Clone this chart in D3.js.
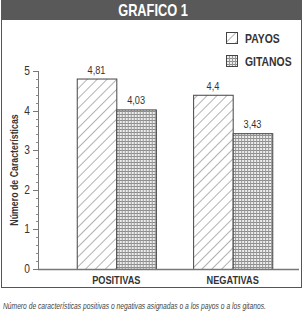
<!DOCTYPE html>
<html>
<head>
<meta charset="utf-8">
<script src="https://cdn.jsdelivr.net/npm/d3@7"></script>
<style>
 body { margin: 0; background: #fff; }
 text { font-family: "Liberation Sans", Arial, sans-serif; }
</style>
</head>
<body>
<div id="chart"></div>
<script>
// data
var categories = ["POSITIVAS", "NEGATIVAS"];
var series = ["PAYOS", "GITANOS"];
var payos = [4.81, 4.4];
var gitanos = [4.03, 3.43];
var valueLabels = [["4,81", "4,03"], ["4,4", "3,43"]];
var yTicks = [0, 1, 2, 3, 4, 5];

var svgWidth = 304, svgHeight = 315;

var svg = d3.select("#chart").append("svg")
  .attr("width", svgWidth)
  .attr("height", svgHeight);

// narrow text: the original uses a condensed face, so squeeze horizontally
function narrow(parent, x, y, sx, str) {
  var g = parent.append("g").attr("transform", `translate(${x},${y}) scale(${sx},1)`);
  return g.append("text").attr("x", 0).attr("y", 0).text(str);
}

// patterns
var defs = svg.append("defs");
var hatch = defs.append("pattern")
  .attr("id", "hatch")
  .attr("patternUnits", "userSpaceOnUse")
  .attr("width", 7).attr("height", 7)
  .attr("patternTransform", "rotate(45)");
hatch.append("rect").attr("width", 7).attr("height", 7).attr("fill", "#fff");
hatch.append("line").attr("x1", 0).attr("y1", 0).attr("x2", 0).attr("y2", 7)
  .attr("stroke", "#555").attr("stroke-width", 0.9);

var grid = defs.append("pattern")
  .attr("id", "grid")
  .attr("patternUnits", "userSpaceOnUse")
  .attr("width", 3).attr("height", 3);
grid.append("rect").attr("width", 3).attr("height", 3).attr("fill", "#eee");
grid.append("rect").attr("width", 3).attr("height", 1).attr("fill", "#8c8c8c");
grid.append("rect").attr("width", 1).attr("height", 3).attr("fill", "#999");

var fills = { PAYOS: "url(#hatch)", GITANOS: "url(#grid)" };

// frame + title bar
svg.append("rect")
  .attr("x", 1.5).attr("y", 1.5).attr("width", 300).attr("height", 286)
  .attr("fill", "none").attr("stroke", "#555").attr("stroke-width", 1);
svg.append("rect")
  .attr("x", 1).attr("y", 0).attr("width", 301).attr("height", 20)
  .attr("fill", "#595959");
narrow(svg, 153, 15.5, 0.8, "GRAFICO 1")
  .attr("text-anchor", "middle")
  .attr("fill", "#fff")
  .attr("font-weight", "bold")
  .attr("font-size", "16px");

// scales
var y = d3.scaleLinear().domain([0, 5]).range([269, 71]);
var x0 = d3.scaleBand().domain(categories).range([39.5, 309.5]).padding(0.32);
var x1 = d3.scaleBand().domain(series).range([0, x0.bandwidth()]);

// y axis with minor ticks
var axisX = 38;
var minor = d3.range(0, 5.001, 0.2);
var yAxis = svg.append("g").attr("transform", `translate(${axisX},0)`);
yAxis.append("line")
  .attr("x1", 0.5).attr("x2", 0.5).attr("y1", y(5)).attr("y2", y(0))
  .attr("stroke", "#777");
yAxis.selectAll(".minor").data(minor).enter().append("line")
  .attr("x1", -2).attr("x2", 0.5)
  .attr("y1", d => Math.round(y(d)) + 0.5).attr("y2", d => Math.round(y(d)) + 0.5)
  .attr("stroke", "#888");
yAxis.selectAll(".major").data(yTicks).enter().append("line")
  .attr("x1", -5).attr("x2", 0.5)
  .attr("y1", d => Math.round(y(d)) + 0.5).attr("y2", d => Math.round(y(d)) + 0.5)
  .attr("stroke", "#777");
yTicks.forEach(function(t) {
  narrow(yAxis, -8, y(t) + 4, 0.85, t)
    .attr("text-anchor", "end")
    .attr("font-size", "12px")
    .attr("fill", "#333");
});

var yl = svg.append("g").attr("transform", "translate(18,170) rotate(-90) scale(0.8,1)");
yl.append("text")
  .attr("text-anchor", "middle")
  .attr("font-size", "11px")
  .attr("font-weight", "bold")
  .attr("fill", "#333")
  .text("Número de Características");

// bars
var rows = categories.map((c, i) => ({ cat: c, vals: [payos[i], gitanos[i]], labels: valueLabels[i] }));
var groups = svg.selectAll(".grp").data(rows).enter().append("g")
  .attr("transform", d => `translate(${x0(d.cat)},0)`);

groups.selectAll("rect").data(d => series.map((s, j) => ({ s: s, v: d.vals[j], l: d.labels[j] })))
  .enter().append("rect")
  .attr("x", d => x1(d.s) + 0.5)
  .attr("y", d => y(d.v) + 0.5)
  .attr("width", x1.bandwidth())
  .attr("height", d => y(0) - y(d.v))
  .attr("fill", d => fills[d.s])
  .attr("stroke", "#444")
  .attr("stroke-width", 1);

groups.each(function(d) {
  var g = d3.select(this);
  series.forEach(function(s, j) {
    narrow(g, x1(s) + x1.bandwidth() / 2, y(d.vals[j]) - 5, 0.8, d.labels[j])
      .attr("text-anchor", "middle")
      .attr("font-size", "11.5px")
      .attr("fill", "#333");
  });
});

// baseline
svg.append("line")
  .attr("x1", axisX).attr("x2", 299)
  .attr("y1", y(0) + 0.5).attr("y2", y(0) + 0.5)
  .attr("stroke", "#777").attr("stroke-width", 1.5);

// category labels
categories.forEach(function(c) {
  narrow(svg, x0(c) + x0.bandwidth() / 2, 284, 0.8, c)
    .attr("text-anchor", "middle")
    .attr("font-size", "11.5px")
    .attr("font-weight", "bold")
    .attr("fill", "#333");
});

// legend
series.forEach(function(s, i) {
  var g = svg.append("g").attr("transform", `translate(226,${32 + i * 23})`);
  g.append("rect")
    .attr("x", 0.5).attr("y", 0.5).attr("width", 11).attr("height", 11)
    .attr("fill", fills[s])
    .attr("stroke", "#444");
  narrow(g, 19, 11, 0.8, s)
    .attr("font-size", "13px")
    .attr("font-weight", "bold")
    .attr("fill", "#333");
});

// caption
narrow(svg, 3, 309, 0.79, "Número de características positivas o negativas asignadas o a los payos o a los gitanos.")
  .attr("font-size", "8.5px")
  .attr("font-style", "italic")
  .attr("fill", "#444");
</script>
</body>
</html>
